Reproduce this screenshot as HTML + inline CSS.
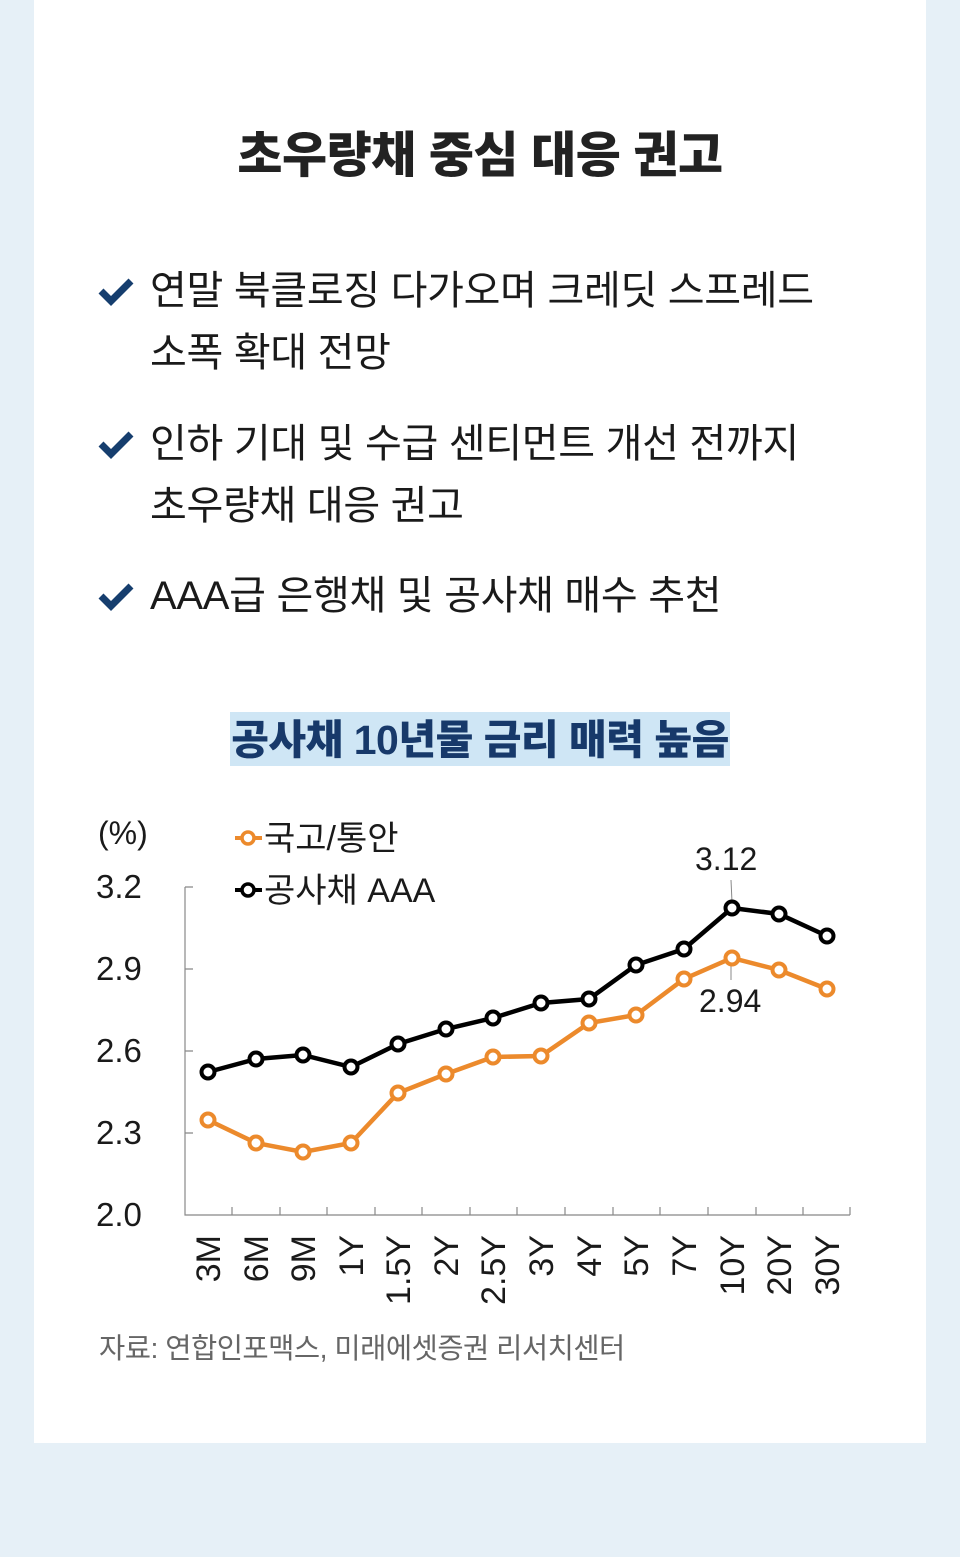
<!DOCTYPE html>
<html><head><meta charset="utf-8"><style>
body{margin:0;width:960px;height:1557px;background:#e6f0f7;font-family:"Liberation Sans","Noto Sans CJK KR",sans-serif;position:relative;overflow:hidden}
.card{position:absolute;left:34px;top:0;width:892px;height:1443px;background:#fff}
h1{position:absolute;left:0;width:960px;top:125px;margin:0;text-align:center;font-size:49px;font-weight:900;color:#222;line-height:62px;letter-spacing:-0.5px}
.b{position:absolute;left:150px;font-size:40px;color:#1a1a1a;line-height:62px;letter-spacing:-0.3px;white-space:nowrap}
.chk{position:absolute;left:98px}
.ct{position:absolute;left:230px;top:712px;width:500px;height:54px;background:#cfe6f5;color:#17396a;font-size:41px;font-weight:900;text-align:center;line-height:56px;letter-spacing:-0.5px;white-space:nowrap}
.src{position:absolute;left:99px;top:1326px;font-size:28.5px;color:#666;letter-spacing:-0.5px;white-space:nowrap}
</style></head><body>
<div class="card"></div>
<h1>초우량채 중심 대응 권고</h1>
<svg class="chk" style="top:276px" width="36" height="30" viewBox="0 0 36 30"><path d="M3 15 L13 25 L33 5" stroke="#163e6e" stroke-width="7" fill="none"/></svg>
<svg class="chk" style="top:429px" width="36" height="30" viewBox="0 0 36 30"><path d="M3 15 L13 25 L33 5" stroke="#163e6e" stroke-width="7" fill="none"/></svg>
<svg class="chk" style="top:581px" width="36" height="30" viewBox="0 0 36 30"><path d="M3 15 L13 25 L33 5" stroke="#163e6e" stroke-width="7" fill="none"/></svg>
<div class="b" style="top:260px">연말 북클로징 다가오며 크레딧 스프레드<br>소폭 확대 전망</div>
<div class="b" style="top:413px">인하 기대 및 수급 센티먼트 개선 전까지<br>초우량채 대응 권고</div>
<div class="b" style="top:565px">AAA급 은행채 및 공사채 매수 추천</div>
<div class="ct">공사채 10년물 금리 매력 높음</div>
<svg style="position:absolute;left:0;top:0" width="960" height="1557">
<g font-family="Liberation Sans,Noto Sans CJK KR,sans-serif" fill="#1a1a1a">
<text x="98" y="844" font-size="32">(%)</text>
<g font-size="33">
<text x="96" y="898">3.2</text><text x="96" y="980">2.9</text><text x="96" y="1062">2.6</text><text x="96" y="1144">2.3</text><text x="96" y="1226">2.0</text>
</g>
</g>
<g stroke="#888" stroke-width="1.2" fill="none">
<path d="M185 887 V1215 H850"/>
<path d="M185 887 H193 M185 969 H193 M185 1051 H193 M185 1133 H193"/>
<path d="M232 1215 V1207 M280 1215 V1207 M327 1215 V1207 M375 1215 V1207 M422 1215 V1207 M470 1215 V1207 M517 1215 V1207 M565 1215 V1207 M613 1215 V1207 M660 1215 V1207 M708 1215 V1207 M756 1215 V1207 M803 1215 V1207 M850 1215 V1207"/>
<path d="M731 880 L732 902 M731 964 L731 980" stroke-width="1"/>
</g>
<polyline fill="none" stroke="#ec8a2c" stroke-width="4.5" points="208,1120 256,1143 303,1152 351,1143 398,1093 446,1074 493,1057 541,1056 589,1023 636,1015 684,979 732,958 779,970 827,989"/>
<g fill="#fff" stroke="#ec8a2c" stroke-width="4">
<circle cx="208" cy="1120" r="6.5"/><circle cx="256" cy="1143" r="6.5"/><circle cx="303" cy="1152" r="6.5"/><circle cx="351" cy="1143" r="6.5"/><circle cx="398" cy="1093" r="6.5"/><circle cx="446" cy="1074" r="6.5"/><circle cx="493" cy="1057" r="6.5"/><circle cx="541" cy="1056" r="6.5"/><circle cx="589" cy="1023" r="6.5"/><circle cx="636" cy="1015" r="6.5"/><circle cx="684" cy="979" r="6.5"/><circle cx="732" cy="958" r="6.5"/><circle cx="779" cy="970" r="6.5"/><circle cx="827" cy="989" r="6.5"/>
</g>
<polyline fill="none" stroke="#000" stroke-width="4.5" points="208,1072 256,1059 303,1055 351,1067 398,1044 446,1029 493,1018 541,1003 589,999 636,965 684,949 732,908 779,914 827,936"/>
<g fill="#fff" stroke="#000" stroke-width="4">
<circle cx="208" cy="1072" r="6.5"/><circle cx="256" cy="1059" r="6.5"/><circle cx="303" cy="1055" r="6.5"/><circle cx="351" cy="1067" r="6.5"/><circle cx="398" cy="1044" r="6.5"/><circle cx="446" cy="1029" r="6.5"/><circle cx="493" cy="1018" r="6.5"/><circle cx="541" cy="1003" r="6.5"/><circle cx="589" cy="999" r="6.5"/><circle cx="636" cy="965" r="6.5"/><circle cx="684" cy="949" r="6.5"/><circle cx="732" cy="908" r="6.5"/><circle cx="779" cy="914" r="6.5"/><circle cx="827" cy="936" r="6.5"/>
</g>
<line x1="235" y1="838" x2="262" y2="838" stroke="#ec8a2c" stroke-width="4"/><circle cx="248" cy="838" r="6" fill="#fff" stroke="#ec8a2c" stroke-width="3.5"/>
<line x1="235" y1="890" x2="262" y2="890" stroke="#000" stroke-width="4"/><circle cx="248" cy="890" r="6" fill="#fff" stroke="#000" stroke-width="3.5"/>
<g font-family="Liberation Sans,Noto Sans CJK KR,sans-serif" fill="#1a1a1a" font-size="34">
<text x="264" y="850">국고/통안</text>
<text x="264" y="902">공사채 AAA</text>
<text x="695" y="870" font-size="32">3.12</text>
<text x="699" y="1012" font-size="32">2.94</text>
</g>
<g font-family="Liberation Sans,sans-serif" font-size="34" fill="#1a1a1a" text-anchor="end">
<text transform="translate(220,1235) rotate(-90)">3M</text>
<text transform="translate(268,1235) rotate(-90)">6M</text>
<text transform="translate(315,1235) rotate(-90)">9M</text>
<text transform="translate(363,1235) rotate(-90)">1Y</text>
<text transform="translate(410,1235) rotate(-90)">1.5Y</text>
<text transform="translate(458,1235) rotate(-90)">2Y</text>
<text transform="translate(505,1235) rotate(-90)">2.5Y</text>
<text transform="translate(553,1235) rotate(-90)">3Y</text>
<text transform="translate(601,1235) rotate(-90)">4Y</text>
<text transform="translate(648,1235) rotate(-90)">5Y</text>
<text transform="translate(696,1235) rotate(-90)">7Y</text>
<text transform="translate(744,1235) rotate(-90)">10Y</text>
<text transform="translate(791,1235) rotate(-90)">20Y</text>
<text transform="translate(839,1235) rotate(-90)">30Y</text>
</g>
</svg>
<div class="src">자료: 연합인포맥스, 미래에셋증권 리서치센터</div>
</body></html>
